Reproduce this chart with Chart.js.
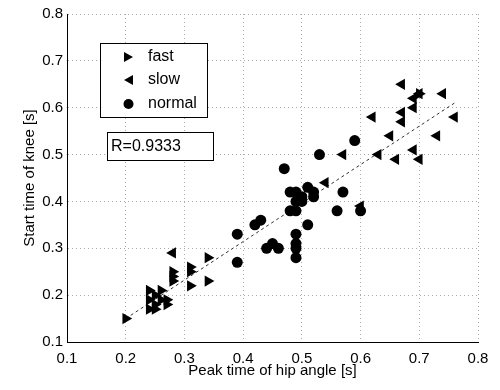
<!DOCTYPE html>
<html>
<head>
<meta charset="utf-8">
<script src="https://cdn.jsdelivr.net/npm/chart.js@4/dist/chart.umd.min.js"></script>
<style>
  html, body { margin: 0; padding: 0; background: #fff; }
  #wrap { position: relative; width: 500px; height: 390px; }
</style>
</head>
<body>
<div id="wrap"><canvas id="c" width="500" height="390"></canvas></div>
<script>
// Data
const fastX   = [0.20, 0.24, 0.24, 0.24, 0.25, 0.25, 0.25, 0.26, 0.26, 0.27, 0.27, 0.28, 0.28, 0.28, 0.31, 0.31, 0.31, 0.34, 0.34, 0.70];
const fastY   = [0.15, 0.21, 0.19, 0.17, 0.20, 0.18, 0.17, 0.19, 0.21, 0.18, 0.19, 0.25, 0.24, 0.23, 0.26, 0.25, 0.22, 0.28, 0.23, 0.63];

const slowX   = [0.28, 0.54, 0.57, 0.60, 0.62, 0.63, 0.65, 0.66, 0.67, 0.67, 0.67, 0.69, 0.69, 0.70, 0.69, 0.70, 0.74, 0.73, 0.76];
const slowY   = [0.29, 0.44, 0.50, 0.39, 0.58, 0.50, 0.54, 0.49, 0.65, 0.59, 0.57, 0.62, 0.60, 0.63, 0.51, 0.49, 0.63, 0.54, 0.58];

const normalX = [0.39, 0.39, 0.42, 0.43, 0.44, 0.45, 0.46, 0.47, 0.48, 0.49, 0.48, 0.49, 0.49, 0.50, 0.50, 0.49, 0.49, 0.49, 0.49, 0.51, 0.52, 0.52, 0.51, 0.53, 0.56, 0.57, 0.59, 0.60];
const normalY = [0.33, 0.27, 0.35, 0.36, 0.30, 0.31, 0.30, 0.47, 0.42, 0.42, 0.38, 0.38, 0.40, 0.40, 0.41, 0.33, 0.31, 0.30, 0.28, 0.43, 0.42, 0.41, 0.35, 0.50, 0.38, 0.42, 0.53, 0.38];

const fitX = [0.20, 0.76];
const fitY = [0.15, 0.61];

const xTicks = [0.1, 0.2, 0.3, 0.4, 0.5, 0.6, 0.7, 0.8];
const yTicks = [0.1, 0.2, 0.3, 0.4, 0.5, 0.6, 0.7, 0.8];
const rLabel = 'R=0.9333';

const FONT = "'Liberation Sans', Arial, sans-serif";
const pts = (xs, ys) => xs.map((x, i) => ({ x, y: ys[i] }));

// legend + R box drawn on the canvas
const boxes = {
  id: 'boxes',
  afterDraw(chart) {
    const ctx = chart.ctx;
    ctx.save();
    ctx.fillStyle = '#fff';
    ctx.strokeStyle = '#000';
    ctx.lineWidth = 1;
    ctx.fillRect(100, 43, 107, 74);
    ctx.strokeRect(100.5, 43.5, 107, 74);
    ctx.fillRect(107, 132, 106, 28);
    ctx.strokeRect(107.5, 132.5, 106, 28);

    ctx.fillStyle = '#000';
    // fast
    ctx.beginPath(); ctx.moveTo(124, 52); ctx.lineTo(133, 57); ctx.lineTo(124, 62); ctx.closePath(); ctx.fill();
    // slow
    ctx.beginPath(); ctx.moveTo(133, 75); ctx.lineTo(124, 80); ctx.lineTo(133, 85); ctx.closePath(); ctx.fill();
    // normal
    ctx.beginPath(); ctx.arc(128.5, 104, 5, 0, Math.PI * 2); ctx.fill();

    ctx.font = '16px ' + FONT;
    ctx.textBaseline = 'middle';
    ctx.textAlign = 'left';
    ctx.fillText('fast', 148, 57);
    ctx.fillText('slow', 148, 80);
    ctx.fillText('normal', 148, 104);
    ctx.fillText(rLabel, 111, 147);
    ctx.restore();
  }
};

new Chart(document.getElementById('c'), {
  type: 'scatter',
  data: {
    datasets: [
      { label: 'fast', data: pts(fastX, fastY), pointStyle: 'triangle', rotation: 90, pointRadius: 6.5,
        backgroundColor: '#000', borderColor: '#000', borderWidth: 0, order: 1 },
      { label: 'slow', data: pts(slowX, slowY), pointStyle: 'triangle', rotation: -90, pointRadius: 6.5,
        backgroundColor: '#000', borderColor: '#000', borderWidth: 0, order: 1 },
      { label: 'normal', data: pts(normalX, normalY), pointStyle: 'circle', pointRadius: 5.5,
        backgroundColor: '#000', borderColor: '#000', borderWidth: 0, order: 1 },
      { label: 'fit', data: pts(fitX, fitY), showLine: true, pointRadius: 0,
        borderColor: '#333', borderWidth: 1, borderDash: [3, 3], order: 10 },
    ],
  },
  options: {
    responsive: false,
    animation: false,
    layout: { padding: { top: 14, right: 22, left: 21, bottom: 10 } },
    plugins: { legend: { display: false }, tooltip: { enabled: false } },
    scales: {
      x: {
        type: 'linear', min: 0.1, max: 0.8,
        afterBuildTicks: s => { s.ticks = xTicks.map(v => ({ value: v })); },
        afterFit: s => { s.height = 38; },
        grid: { color: '#aaa', drawTicks: false },
        border: { color: '#000', width: 1, dash: [1, 3] },
        ticks: { color: '#000', padding: 8, font: { family: FONT, size: 15 }, callback: v => v.toFixed(1) },
        title: { display: true, text: 'Peak time of hip angle [s]', color: '#000', padding: { top: 0, bottom: 0 },
                 font: { family: FONT, size: 15 } },
      },
      y: {
        type: 'linear', min: 0.1, max: 0.8,
        afterBuildTicks: s => { s.ticks = yTicks.map(v => ({ value: v })); },
        afterFit: s => { s.width = 46; },
        grid: { color: '#aaa', drawTicks: false },
        border: { color: '#000', width: 1, dash: [1, 3] },
        ticks: { color: '#000', padding: 4, font: { family: FONT, size: 15 }, callback: v => v.toFixed(1) },
        title: { display: true, text: 'Start time of knee [s]', color: '#000', padding: { top: 0, bottom: 0 },
                 font: { family: FONT, size: 15 } },
      },
    },
  },
  plugins: [boxes],
});
</script>
</body>
</html>
